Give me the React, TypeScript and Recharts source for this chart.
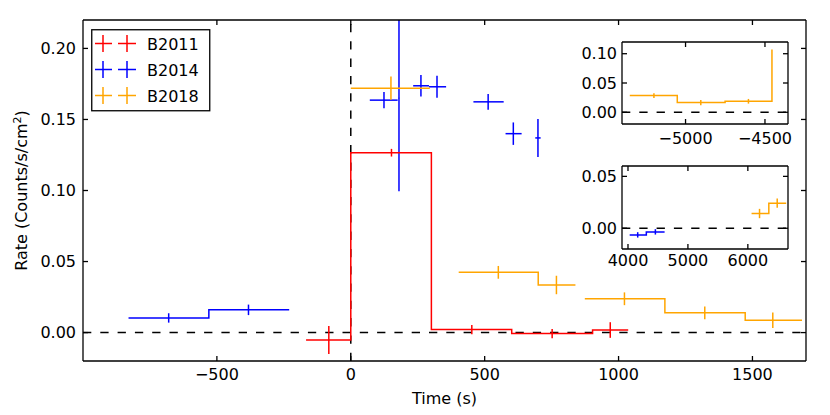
import React from "react";
import {
  ComposedChart,
  ErrorBar,
  Label,
  Legend,
  Line,
  ReferenceLine,
  Scatter,
  XAxis,
  YAxis,
} from "recharts";

const RED = "#ff0000";
const BLUE = "#0000ff";
const ORANGE = "#ffa500";
const FONT = "'DejaVu Sans', sans-serif";
const LW = 1.5;
const DASH = "8.3 9";

// axes
const MAIN_X_TICKS = [-500, 0, 500, 1000, 1500];
const MAIN_Y_TICKS = [0, 0.05, 0.1, 0.15, 0.2];
const INSET1_X_TICKS = [-5000, -4500];
const INSET1_Y_TICKS = [0, 0.05, 0.1];
const INSET2_X_TICKS = [4000, 5000, 6000];
const INSET2_Y_TICKS = [0, 0.05];

// B2011 (red), one binned run
const B2011_EDGES = [-167, 0, 301, 601, 903, 1036];
const B2011_TIME = [-82, 152, 452, 752, 969];
const B2011_RATE = [-0.0052, 0.1266, 0.0021, -0.0007, 0.0018];
const B2011_ERR = [0.0098, 0.0027, 0.0033, 0.0033, 0.0055];

// B2014 (blue), pre-burst bins
const B2014_EDGES = [-830, -530, -230];
const B2014_TIME = [-680, -382];
const B2014_RATE = [0.0103, 0.016];
const B2014_ERR = [0.0033, 0.0037];
// B2014 burst points, each with its own time span (the long bar runs off the top)
const B2014_BURST_TIME = [124, 180, 262, 322, 513, 607, 699];
const B2014_BURST_RATE = [0.1636, 0.165, 0.1737, 0.173, 0.1624, 0.14, 0.137];
const B2014_BURST_ERR_LO = [0.0057, 0.0656, 0.0076, 0.0078, 0.0055, 0.0079, 0.0134];
const B2014_BURST_ERR_HI = [0.0057, 0.055, 0.0076, 0.0078, 0.0055, 0.0079, 0.0134];
const B2014_BURST_START = [71, 179, 233, 292, 458, 578, 689];
const B2014_BURST_END = [175, 181, 292, 356, 571, 638, 709];
// B2014 late bins (lower inset)
const B2014_LATE_EDGES = [4028, 4306, 4611];
const B2014_LATE_TIME = [4162, 4457];
const B2014_LATE_RATE = [-0.0064, -0.0035];
const B2014_LATE_ERR = [0.0026, 0.0026];

// B2018 (orange)
const B2018_A_EDGES = [0, 295];
const B2018_A_TIME = [150];
const B2018_A_RATE = [0.172];
const B2018_A_ERR = [0.0082];
const B2018_B_EDGES = [403, 700, 839];
const B2018_B_TIME = [551, 768];
const B2018_B_RATE = [0.0424, 0.0335];
const B2018_B_ERR = [0.0045, 0.0065];
const B2018_C_EDGES = [874, 1173, 1473, 1685];
const B2018_C_TIME = [1022, 1322, 1576];
const B2018_C_RATE = [0.0238, 0.0139, 0.0087];
const B2018_C_ERR = [0.0045, 0.0045, 0.0054];
// early bins (upper inset), last edge jumps to the next level
const B2018_EARLY_EDGES = [-5351, -5052, -4751, -4456];
const B2018_EARLY_TIME = [-5199, -4904, -4604];
const B2018_EARLY_RATE = [0.0286, 0.0166, 0.0188];
const B2018_EARLY_ERR = [0.004, 0.0045, 0.004];
const B2018_EARLY_NEXT = 0.107;
// late bins (lower inset)
const B2018_LATE_EDGES = [6062, 6350, 6640];
const B2018_LATE_TIME = [6195, 6490];
const B2018_LATE_RATE = [0.0142, 0.0242];
const B2018_LATE_ERR = [0.0045, 0.0045];

const LEGEND_ITEMS = [
  { name: "B2011", color: RED },
  { name: "B2014", color: BLUE },
  { name: "B2018", color: ORANGE },
];

type Pt = { x: number; y: number; ey?: number | [number, number]; ex?: [number, number] };

const steps = (edges: number[], rates: number[], next?: number): Pt[] =>
  edges.map((x, i) => ({
    x,
    y: i < rates.length ? rates[i] : next ?? rates[rates.length - 1],
  }));

const points = (time: number[], rate: number[], err: number[]): Pt[] =>
  time.map((x, i) => ({ x, y: rate[i], ey: err[i] }));

const burst: Pt[] = B2014_BURST_TIME.map((x, i) => ({
  x,
  y: B2014_BURST_RATE[i],
  ey: [B2014_BURST_ERR_LO[i], B2014_BURST_ERR_HI[i]],
  ex: [x - B2014_BURST_START[i], B2014_BURST_END[i] - x],
}));

const minus = (s: string) => s.replace("-", "\u2212");
const fmtInt = (v: number) => minus(String(v));
const fmtRate = (v: number) => minus(v.toFixed(2));

const TICK = { fill: "#000", fontSize: 16, fontFamily: FONT };
const AXIS_LINE = { stroke: "#000", strokeWidth: 1.3 };

const NoMarker = () => <g />;

function step(key: string, data: Pt[], color: string) {
  return (
    <Line
      key={key}
      data={data}
      dataKey="y"
      type="stepAfter"
      stroke={color}
      strokeWidth={LW}
      dot={false}
      activeDot={false}
      isAnimationActive={false}
    />
  );
}

function errs(key: string, data: Pt[], color: string, withX = false) {
  return (
    <Scatter key={key} data={data} fill={color} shape={NoMarker} isAnimationActive={false}>
      <ErrorBar dataKey="ey" direction="y" width={0} stroke={color} strokeWidth={LW} />
      {withX && <ErrorBar dataKey="ex" direction="x" width={0} stroke={color} strokeWidth={LW} />}
    </Scatter>
  );
}

// bottom/left axes with labels, top/right axes only carry the inward ticks
function frame(
  xDomain: [number, number],
  yDomain: [number, number],
  xTicks: number[],
  yTicks: number[],
  xHeight: number,
  yWidth: number,
  xMargin: number,
  yMargin: number,
  xLabel?: React.ReactNode,
  yLabel?: React.ReactNode
) {
  const common = { allowDataOverflow: true, interval: 0 as const, axisLine: AXIS_LINE, tickLine: AXIS_LINE, tickSize: -5 };
  return [
    <XAxis key="xb" type="number" dataKey="x" domain={xDomain} ticks={xTicks} height={xHeight}
      tickFormatter={fmtInt} tick={TICK} tickMargin={xMargin} {...common}>
      {xLabel}
    </XAxis>,
    <XAxis key="xt" xAxisId="top" orientation="top" type="number" dataKey="x" domain={xDomain}
      ticks={xTicks} height={1} tickFormatter={() => ""} {...common} />,
    <YAxis key="yl" type="number" dataKey="y" domain={yDomain} ticks={yTicks} width={yWidth}
      tickFormatter={fmtRate} tick={TICK} tickMargin={yMargin} {...common}>
      {yLabel}
    </YAxis>,
    <YAxis key="yr" yAxisId="right" orientation="right" type="number" dataKey="y" domain={yDomain}
      ticks={yTicks} width={1} tickFormatter={() => ""} {...common} />,
  ];
}

function zeroLine() {
  return <ReferenceLine key="zero" y={0} stroke="#000" strokeWidth={LW} strokeDasharray={DASH} />;
}

function LegendBox() {
  return (
    <svg width={120} height={83} style={{ display: "block" }}>
      <rect x={0.75} y={0.75} width={118} height={81} fill="#fff" stroke="#000" strokeWidth={1.3} />
      {LEGEND_ITEMS.map((item, i) => {
        const cy = 14.5 + i * 26;
        return (
          <g key={item.name} stroke={item.color} strokeWidth={LW}>
            <line x1={4} x2={21} y1={cy} y2={cy} />
            <line x1={12} x2={12} y1={cy - 8.5} y2={cy + 8.5} />
            <line x1={27} x2={45} y1={cy} y2={cy} />
            <line x1={36} x2={36} y1={cy - 8.5} y2={cy + 8.5} />
            <text x={56} y={cy + 6} stroke="none" fill="#000" fontSize={16} fontFamily={FONT}>
              {item.name}
            </text>
          </g>
        );
      })}
    </svg>
  );
}

const timeLabel = (
  <Label
    content={(props: any) => {
      const vb = props.viewBox || { x: 83, y: 361, width: 723 };
      return (
        <text x={vb.x + vb.width / 2} y={404} textAnchor="middle" fontSize={16} fontFamily={FONT} fill="#000">
          Time (s)
        </text>
      );
    }}
  />
);

const rateLabel = (
  <Label
    content={() => (
      <text
        x={21.5}
        y={190.5}
        dy="0.36em"
        transform="rotate(-90, 21.5, 190.5)"
        textAnchor="middle"
        fontSize={16}
        fontFamily={FONT}
        fill="#000"
      >
        Rate (Counts/s/cm<tspan dy={-6} fontSize={11}>2</tspan>
        <tspan dy={6}>)</tspan>
      </text>
    )}
  />
);

function Inset({
  top,
  xDomain,
  yDomain,
  xTicks,
  yTicks,
  xHeight,
  xMargin,
  children,
}: {
  top: number;
  xDomain: [number, number];
  yDomain: [number, number];
  xTicks: number[];
  yTicks: number[];
  xHeight: number;
  xMargin: number;
  children: React.ReactNode;
}) {
  return (
    <div style={{ position: "absolute", left: 560, top }}>
      <ComposedChart width={240} height={120} margin={{ top: 7, right: 11, bottom: 0, left: 0 }}>
        {frame(xDomain, yDomain, xTicks, yTicks, xHeight, 62, xMargin, 10)}
        {zeroLine()}
        {children}
      </ComposedChart>
    </div>
  );
}

export default function App() {
  return (
    <div style={{ position: "absolute", left: 0, top: 0, width: 830, height: 415, background: "#fff" }}>
      <ComposedChart width={830} height={415} margin={{ top: 19, right: 23, bottom: 24, left: 23 }}>
        {frame([-1000, 1700], [-0.02, 0.22], MAIN_X_TICKS, MAIN_Y_TICKS, 30, 60, 13, 12, timeLabel, rateLabel)}
        {zeroLine()}
        <ReferenceLine x={0} stroke="#000" strokeWidth={LW} strokeDasharray={DASH} />
        {step("b14s", steps(B2014_EDGES, B2014_RATE), BLUE)}
        {errs("b14e", points(B2014_TIME, B2014_RATE, B2014_ERR), BLUE)}
        {errs("b14b", burst, BLUE, true)}
        {step("b18a", steps(B2018_A_EDGES, B2018_A_RATE), ORANGE)}
        {errs("b18ae", points(B2018_A_TIME, B2018_A_RATE, B2018_A_ERR), ORANGE)}
        {step("b18b", steps(B2018_B_EDGES, B2018_B_RATE), ORANGE)}
        {errs("b18be", points(B2018_B_TIME, B2018_B_RATE, B2018_B_ERR), ORANGE)}
        {step("b18c", steps(B2018_C_EDGES, B2018_C_RATE), ORANGE)}
        {errs("b18ce", points(B2018_C_TIME, B2018_C_RATE, B2018_C_ERR), ORANGE)}
        {step("b11s", steps(B2011_EDGES, B2011_RATE), RED)}
        {errs("b11e", points(B2011_TIME, B2011_RATE, B2011_ERR), RED)}
        <Legend
          layout="horizontal"
          verticalAlign="middle"
          align="center"
          content={() => <LegendBox />}
          wrapperStyle={{ position: "absolute", left: 91, top: 28.5, width: 120, height: 83 }}
        />
      </ComposedChart>

      <Inset top={34} xDomain={[-5400, -4355]} yDomain={[-0.02, 0.12]} xTicks={INSET1_X_TICKS}
        yTicks={INSET1_Y_TICKS} xHeight={30} xMargin={14}>
        {step("e18s", steps(B2018_EARLY_EDGES, B2018_EARLY_RATE, B2018_EARLY_NEXT), ORANGE)}
        {errs("e18e", points(B2018_EARLY_TIME, B2018_EARLY_RATE, B2018_EARLY_ERR), ORANGE)}
      </Inset>

      <Inset top={158} xDomain={[3900, 6670]} yDomain={[-0.02, 0.06]} xTicks={INSET2_X_TICKS}
        yTicks={INSET2_Y_TICKS} xHeight={29} xMargin={11}>
        {step("l14s", steps(B2014_LATE_EDGES, B2014_LATE_RATE), BLUE)}
        {errs("l14e", points(B2014_LATE_TIME, B2014_LATE_RATE, B2014_LATE_ERR), BLUE)}
        {step("l18s", steps(B2018_LATE_EDGES, B2018_LATE_RATE), ORANGE)}
        {errs("l18e", points(B2018_LATE_TIME, B2018_LATE_RATE, B2018_LATE_ERR), ORANGE)}
      </Inset>
    </div>
  );
}
